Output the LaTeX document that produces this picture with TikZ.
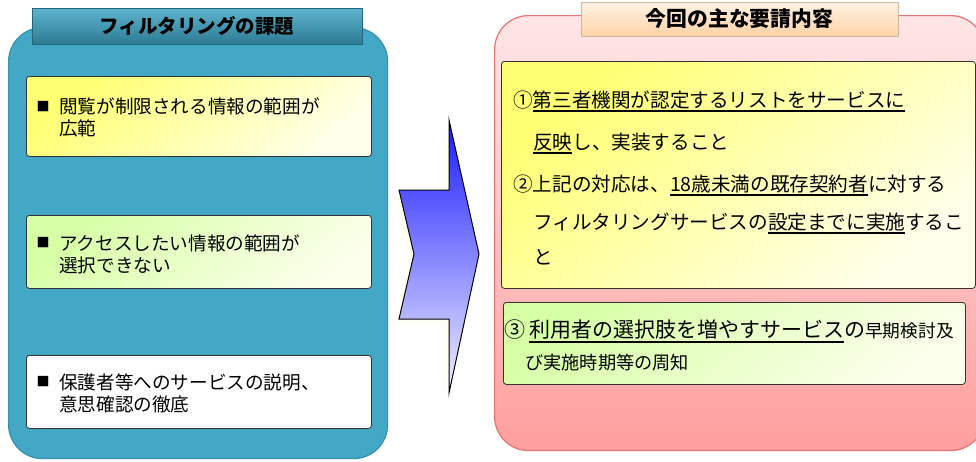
\documentclass[tikz,border=0pt]{standalone}
\usepackage{fontspec}
\newfontfamily\jp{Noto Sans CJK JP}
\definecolor{teal1}{HTML}{42A8C6}
\definecolor{teal2}{HTML}{3590AE}
\newsavebox\ulbox
\newcommand\myul[1]{\sbox\ulbox{#1}\rlap{\smash{\rule[-4.6pt]{\wd\ulbox}{1.7pt}}}\usebox\ulbox}
\newcommand\fs[1]{\fontsize{#1}{#1}\selectfont}
\tikzset{
  panel/.style={anchor=north west, inner sep=0pt, rounded corners=34pt, line width=1.2pt},
  tab/.style={anchor=center, inner sep=0pt, line width=0.8pt, font=\jp\bfseries\fs{19.5}},
  itembox/.style={anchor=north west, inner sep=0pt, rounded corners=3pt, draw=black!80, line width=0.8pt},
  yellowbox/.style={itembox, top color=yellow!55, bottom color=yellow!8, shading angle=40},
  greenbox/.style={itembox, top color=green!45!yellow!35, bottom color=green!20!yellow!8, shading angle=40},
  bullet/.style={anchor=center, inner sep=0pt, font=\jp\fs{13}},
  ltxt/.style={anchor=west, inner sep=0pt, align=left, font=\jp\fontsize{18.6}{22}\selectfont},
  rtxt/.style={anchor=west, inner sep=0pt, font=\jp\fs{19.6}},
}
\begin{document}
\begin{tikzpicture}[x=1pt,y=-1pt]
\useasboundingbox (0,0) rectangle (976,461);
\clip (0,0) rectangle (976,461);
% ---------- left panel ----------
\node[panel, fill=teal1, draw=teal2, minimum width=379pt, minimum height=431pt] (lp) at (8,27) {};
\node[tab, top color=teal1!85!white, bottom color=teal2!85!black, draw=teal2!70!black,
      minimum width=330pt, minimum height=36pt] (lt) at (197,26) {フィルタリングの課題};
\node[yellowbox, minimum width=345pt, minimum height=80pt] (b1) at (26,76) {};
\node[greenbox, minimum width=345pt, minimum height=73pt] (b2) at (26,215) {};
\node[itembox, fill=white, minimum width=345pt, minimum height=73pt] (b3) at (26,355) {};
\node[bullet] (m1) at (43,107) {■};
\node[ltxt] (t1) at (59,117.5) {閲覧が制限される情報の範囲が\\広範};
\node[bullet] (m2) at (43,243) {■};
\node[ltxt] (t2) at (59,254) {アクセスしたい情報の範囲が\\選択できない};
\node[bullet] (m3) at (43,382) {■};
\node[ltxt] (t3) at (59,393.5) {保護者等へのサービスの説明、\\意思確認の徹底};
% ---------- arrow ----------
\fill[black!6!yellow!4!white] (443,128) -- (473,262) -- (443,399) -- (443,325) -- (393,325) -- (408,262) -- (393,196) -- (443,196) -- cycle;
\path[draw=black, line width=1pt, top color=blue!90!white, bottom color=blue!5!white, line join=miter]
  (449,120) -- (479,254) -- (449,393) -- (449,319) -- (399,319) -- (414,254) -- (399,190) -- (449,190) -- cycle;
% ---------- right panel ----------
\node[panel, top color=red!10!white, bottom color=red!38!white, draw=red!50!white!90!black,
      minimum width=490pt, minimum height=435pt] (rp) at (494,15) {};
\node[tab, top color=orange!10!white, bottom color=orange!35!white, draw=brown!40!white!90!black,
      minimum width=317pt, minimum height=34pt, font=\jp\bfseries\fs{20.8}] (rt) at (739.5,19) {今回の主な要請内容};
\node[yellowbox, minimum width=474pt, minimum height=227pt] (yb) at (501,61) {};
\node[greenbox, minimum width=462pt, minimum height=82pt] (gb) at (503,302) {};
\node[rtxt] (r1) at (513,100) {①\myul{第三者機関が認定するリストをサービスに}};
\node[rtxt] (r2) at (533,142) {\myul{反映}し、実装すること};
\node[rtxt] (r3) at (513,184) {②上記の対応は、\myul{18歳未満の既存契約者}に対する};
\node[rtxt] (r4) at (533,222) {フィルタリングサービスの\myul{設定までに実施}するこ};
\node[rtxt] (r5) at (533,257) {と};
\node[rtxt, font=\jp\fs{21}] (g1) at (504,330) {③\hspace{4pt}\myul{利用者の選択肢を増やすサービス}の{\fs{17.7}早期検討及}};
\node[rtxt, font=\jp\fs{18.2}] (g2) at (525,363) {び実施時期等の周知};
\end{tikzpicture}
\end{document}
